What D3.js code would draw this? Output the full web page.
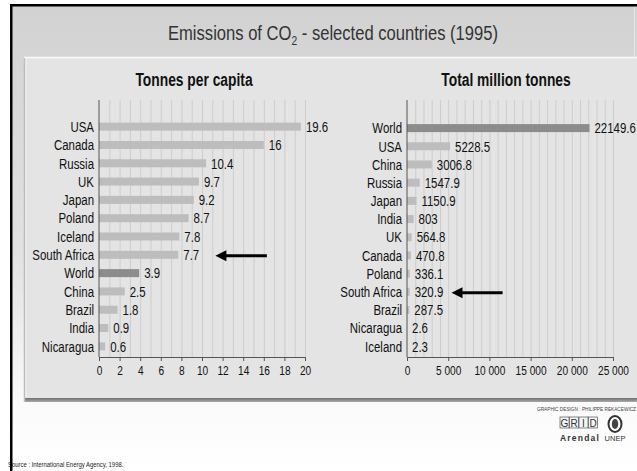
<!DOCTYPE html>
<html>
<head>
<meta charset="utf-8">
<script src="https://cdn.jsdelivr.net/npm/d3@7"></script>
<style>
  html, body { margin: 0; padding: 0; background: #fff; }
  svg { display: block; }
  text { font-family: "Liberation Sans", Arial, sans-serif; }
</style>
</head>
<body>
<svg id="chart" width="637" height="471"></svg>
<script>
// Emissions of CO2, 1995
const perCapitaCountries = ["USA", "Canada", "Russia", "UK", "Japan", "Poland", "Iceland", "South Africa", "World", "China", "Brazil", "India", "Nicaragua"];
const perCapitaValues = [19.6, 16, 10.4, 9.7, 9.2, 8.7, 7.8, 7.7, 3.9, 2.5, 1.8, 0.9, 0.6];
const perCapitaTicks = [0, 2, 4, 6, 8, 10, 12, 14, 16, 18, 20];

const totalCountries = ["World", "USA", "China", "Russia", "Japan", "India", "UK", "Canada", "Poland", "South Africa", "Brazil", "Nicaragua", "Iceland"];
const totalValues = [22149.6, 5228.5, 3006.8, 1547.9, 1150.9, 803, 564.8, 470.8, 336.1, 320.9, 287.5, 2.6, 2.3];
const totalTicks = [0, 5000, 10000, 15000, 20000, 25000];

const highlight = "South Africa";
// arrow extents in data units: [tip, tail]
const perCapitaArrow = [11.3, 16.3];
const totalArrow = [5400, 11600];

// condensed lettering: regular sans squeezed horizontally
const SQUEEZE = 0.79;
function condensed(sel, x, y) {
  return sel.attr("transform", function (d, i) {
    const px = typeof x === "function" ? x(d, i) : x;
    const py = typeof y === "function" ? y(d, i) : y;
    return `translate(${px},${py}) scale(${SQUEEZE},1)`;
  });
}

const svg = d3.select("#chart");
const defs = svg.append("defs");

// page background fading from grey to white
const bg = defs.append("linearGradient").attr("id", "bg").attr("x1", 0).attr("y1", 0).attr("x2", 0).attr("y2", 1);
bg.append("stop").attr("offset", "0%").attr("stop-color", "#d2d2d2");
bg.append("stop").attr("offset", "55%").attr("stop-color", "#e2e2e2");
bg.append("stop").attr("offset", "85%").attr("stop-color", "#fafafa");
bg.append("stop").attr("offset", "100%").attr("stop-color", "#ffffff");

const shadow = defs.append("linearGradient").attr("id", "shadow").attr("x1", 0).attr("y1", 0).attr("x2", 0).attr("y2", 1);
shadow.append("stop").attr("offset", "0%").attr("stop-color", "#6e6e6e");
shadow.append("stop").attr("offset", "100%").attr("stop-color", "#a9a9a9");

svg.append("rect").attr("x", 12).attr("y", 6).attr("width", 625).attr("height", 465).attr("fill", "url(#bg)");

// inner panel with bevel
svg.append("rect").attr("x", 24).attr("y", 57).attr("width", 613).attr("height", 342).attr("fill", "#e4e4e4");
svg.append("rect").attr("x", 24).attr("y", 398).attr("width", 613).attr("height", 4).attr("fill", "url(#shadow)");
svg.append("line").attr("x1", 24).attr("x2", 637).attr("y1", 57.5).attr("y2", 57.5).attr("stroke", "#fbfbfb").attr("stroke-width", 1.5);
svg.append("line").attr("x1", 24.5).attr("x2", 24.5).attr("y1", 58).attr("y2", 402).attr("stroke", "#bdbdbd").attr("stroke-width", 1.5);
svg.append("line").attr("x1", 26).attr("x2", 26).attr("y1", 58).attr("y2", 398).attr("stroke", "#f4f4f4").attr("stroke-width", 1);
svg.append("line").attr("x1", 634.5).attr("x2", 634.5).attr("y1", 6).attr("y2", 57).attr("stroke", "#e8e8e8").attr("stroke-width", 1);

// black frame on the top and left
svg.append("rect").attr("x", 10).attr("y", 4).attr("width", 627).attr("height", 2.5).attr("fill", "#000");

// title
const title = svg.append("text").attr("text-anchor", "middle").attr("font-size", 21).attr("fill", "#333");
condensed(title, 333, 40);
title.append("tspan").text("Emissions of CO");
title.append("tspan").attr("font-size", 13).attr("dy", 5).text("2");
title.append("tspan").attr("dy", -5).text(" - selected countries (1995)");

const spaceFormat = d3.formatLocale({ decimal: ".", thousands: " ", grouping: [3], currency: ["", ""] }).format(",");

function panel(opts) {
  const g = svg.append("g");
  const x = d3.scaleLinear().domain(opts.domain).range([opts.x0, opts.x1]);
  const y = d3.scaleBand().domain(opts.countries).range(opts.yRange);
  const bandMid = c => y(c) + y.bandwidth() / 2;

  condensed(g.append("text"), opts.titleX, 86).attr("text-anchor", "middle")
    .attr("font-size", 17.5).attr("font-weight", "bold").attr("fill", "#111").text(opts.title);

  // gridlines
  g.append("g").selectAll("line").data(opts.grid).join("line")
    .attr("x1", d => x(d) + 0.5).attr("x2", d => x(d) + 0.5)
    .attr("y1", 100).attr("y2", 357)
    .attr("stroke", "#cdcdcd").attr("stroke-width", 1);

  // bars
  g.append("g").selectAll("rect").data(opts.values).join("rect")
    .attr("x", x(0))
    .attr("y", (d, i) => bandMid(opts.countries[i]) - 4)
    .attr("width", d => x(d) - x(0))
    .attr("height", 8)
    .attr("fill", (d, i) => opts.countries[i] === "World" ? "#8c8c8c" : "#bdbdbd");

  // country labels
  condensed(g.append("g").selectAll("text").data(opts.countries).join("text"),
      opts.x0 - 5, d => bandMid(d))
    .attr("dy", "0.36em").attr("text-anchor", "end").attr("font-size", 14.5).attr("fill", "#111").text(d => d);

  // value labels
  condensed(g.append("g").selectAll("text").data(opts.values).join("text"),
      d => x(d) + 5, (d, i) => bandMid(opts.countries[i]))
    .attr("dy", "0.36em").attr("font-size", 14.5).attr("fill", "#111").text(d => String(d));

  // axes
  g.append("line").attr("x1", opts.x0).attr("x2", opts.x0).attr("y1", 100).attr("y2", 357)
    .attr("stroke", "#555").attr("stroke-width", 1);
  const axis = g.append("g").attr("transform", "translate(0,357)")
    .call(d3.axisBottom(x).tickValues(opts.ticks).tickFormat(opts.tickFormat).tickSize(4).tickSizeOuter(0));
  axis.select(".domain").attr("stroke", "#555");
  axis.selectAll(".tick line").attr("stroke", "#555");
  axis.selectAll(".tick text").attr("font-size", 13.5).attr("fill", "#111").attr("y", 8)
    .attr("font-family", "\"Liberation Sans\", Arial, sans-serif")
    .attr("transform", `scale(${SQUEEZE * 0.95},1)`);

  // arrow pointing at the highlighted row
  const ay = bandMid(highlight) + 1;
  const tip = x(opts.arrow[0]), tail = x(opts.arrow[1]);
  g.append("line").attr("x1", tip + 8).attr("x2", tail).attr("y1", ay).attr("y2", ay)
    .attr("stroke", "#000").attr("stroke-width", 3);
  g.append("path").attr("d", `M${tip},${ay} L${tip + 11},${ay - 5.5} L${tip + 11},${ay + 5.5} Z`).attr("fill", "#000");
}

panel({
  title: "Tonnes per capita", titleX: 194,
  countries: perCapitaCountries, values: perCapitaValues,
  domain: [0, 20], x0: 99, x1: 305,
  yRange: [117.5, 355.5],
  ticks: perCapitaTicks, tickFormat: d => String(d),
  grid: d3.range(1, 21),
  arrow: perCapitaArrow
});

panel({
  title: "Total million tonnes", titleX: 506,
  countries: totalCountries, values: totalValues,
  domain: [0, 25000], x0: 407, x1: 613,
  yRange: [119, 355.5],
  ticks: totalTicks, tickFormat: spaceFormat,
  grid: d3.range(1000, 25001, 1000),
  arrow: totalArrow
});

// credits
condensed(svg.append("text"), 636, 411).attr("text-anchor", "end")
  .attr("font-size", 6).attr("fill", "#444").text("GRAPHIC DESIGN : PHILIPPE REKACEWICZ");

const serif = "\"Liberation Serif\", \"DejaVu Serif\", serif";
const logo = svg.append("g");
["G", "R", "I", "D"].forEach((ch, i) => {
  const lx = 560 + i * 9.5;
  logo.append("rect").attr("x", lx).attr("y", 417).attr("width", 9).attr("height", 11)
    .attr("fill", "#f4f4f4").attr("stroke", "#555").attr("stroke-width", 0.7);
  logo.append("text").attr("x", lx + 4.5).attr("y", 426.5).attr("text-anchor", "middle")
    .attr("font-size", 10).attr("fill", "#333").attr("font-family", serif).text(ch);
});
logo.append("text").attr("x", 580).attr("y", 441).attr("text-anchor", "middle").attr("font-size", 8.5)
  .attr("font-weight", "bold").attr("letter-spacing", 1.2).attr("fill", "#333")
  .attr("font-family", serif).text("Arendal");
logo.append("ellipse").attr("cx", 615).attr("cy", 424).attr("rx", 6.5).attr("ry", 8)
  .attr("fill", "none").attr("stroke", "#333").attr("stroke-width", 2);
logo.append("ellipse").attr("cx", 615).attr("cy", 424).attr("rx", 3.2).attr("ry", 5)
  .attr("fill", "#444");
logo.append("text").attr("x", 615).attr("y", 441).attr("text-anchor", "middle").attr("font-size", 7.5)
  .attr("fill", "#333").attr("font-family", serif).text("UNEP");

condensed(svg.append("text"), 8, 467).attr("font-size", 7.5).attr("fill", "#222")
  .text("Source : International Energy Agency, 1998.");
// left frame drawn last so it sits over the source line
svg.append("rect").attr("x", 10).attr("y", 4).attr("width", 2.5).attr("height", 467).attr("fill", "#000");
</script>
</body>
</html>
